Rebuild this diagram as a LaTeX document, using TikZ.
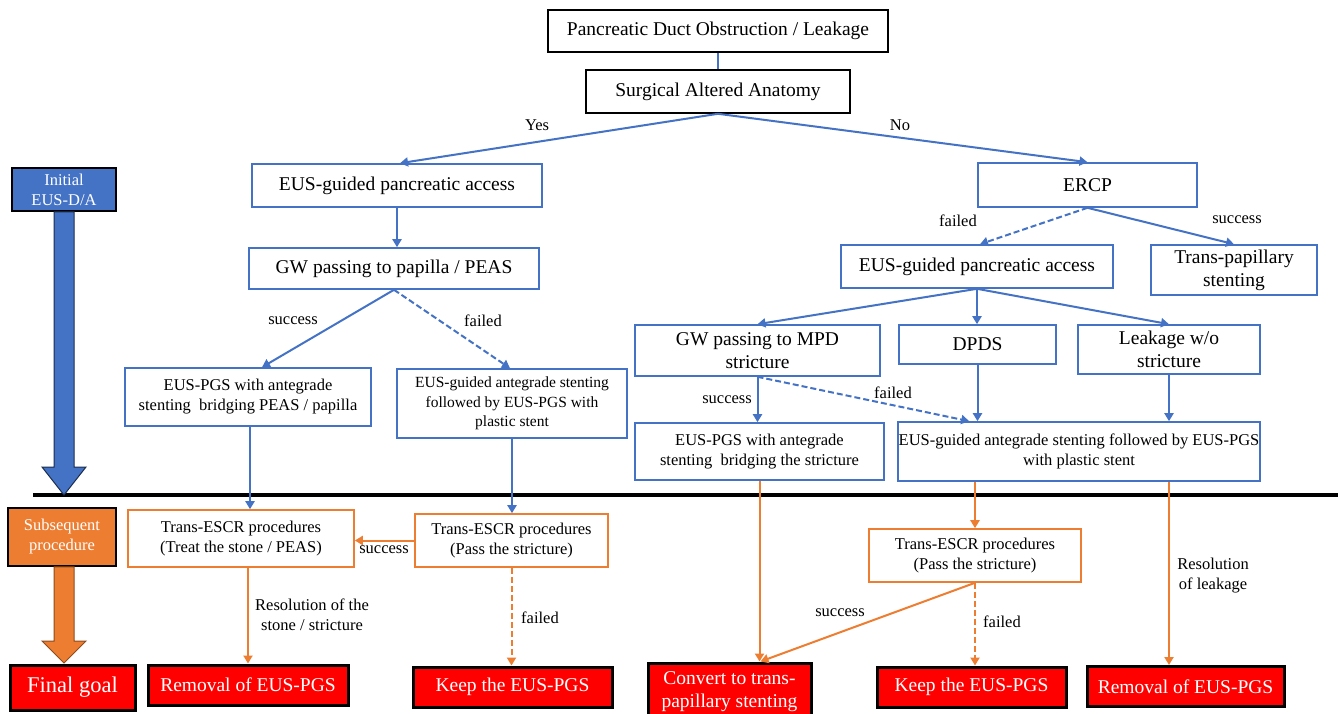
\documentclass[tikz,border=0pt]{standalone}
\usepackage{fontspec}
\setmainfont{Liberation Serif}
\usetikzlibrary{arrows.meta,calc}
\definecolor{bblue}{HTML}{4472C4}
\definecolor{borange}{HTML}{ED7D31}
\definecolor{bred}{HTML}{FF0000}
\tikzset{
  big/.style={font=\fontsize{19.5}{23}\selectfont},
  mid/.style={font=\fontsize{16.5}{20}\selectfont},
  small/.style={font=\fontsize{15.5}{19.5}\selectfont},
  blk/.style={draw=black, line width=1.6pt, inner sep=0pt, align=center, fill=white},
  bbox/.style={draw=bblue, line width=1.6pt, inner sep=0pt, align=center, fill=white},
  obox/.style={draw=borange, line width=1.6pt, inner sep=0pt, align=center, fill=white},
  rbox/.style={draw=black, fill=bred, line width=3pt, inner sep=0pt, align=center, text=white, big},
  sidebox/.style={draw=black, line width=1.8pt, inner sep=0pt, align=center, text=white, mid},
  lab/.style={mid, inner sep=0pt, align=center},
  barr/.style={draw=bblue, line width=2pt, -{Triangle[length=8pt,width=9pt]}},
  oarr/.style={draw=borange, line width=2pt, -{Triangle[length=8pt,width=9pt]}},
  dsh/.style={dash pattern=on 6pt off 3pt},
}
\begin{document}
\begin{tikzpicture}[x=1pt,y=-1pt]
\useasboundingbox (0,0) rectangle (1338,714);
% ---------- top ----------
\node[blk,big,minimum width=340pt,minimum height=42pt] (top) at (718,31) {Pancreatic Duct Obstruction / Leakage};
\node[blk,big,minimum width=264pt,minimum height=43pt] (saa) at (718,91.5) {Surgical Altered Anatomy};
\node[bbox,big,minimum width=290pt,minimum height=43pt] (eusL) at (397,185.5) {EUS-guided pancreatic access};
\node[bbox,big,minimum width=219pt,minimum height=44pt] (ercp) at (1087.5,185) {ERCP};
\node[bbox,big,minimum width=290pt,minimum height=41pt] (gwL) at (394,268.5) {GW passing to papilla / PEAS};
\node[bbox,mid,minimum width=246pt,minimum height=58pt] (pgsL) at (248,397) {EUS-PGS with antegrade\\stenting\ \ bridging PEAS / papilla};
\node[bbox,small,minimum width=230pt,minimum height=69pt] (antL) at (512,403.5) {EUS-guided antegrade stenting\\followed by EUS-PGS with\\plastic stent};
\node[bbox,big,minimum width=272pt,minimum height=43pt] (eusR) at (977,266.5) {EUS-guided pancreatic access};
\node[bbox,big,minimum width=166pt,minimum height=50pt] (tps) at (1234,270) {Trans-papillary\\stenting};
\node[bbox,big,minimum width=245pt,minimum height=51pt] (gwR) at (757.5,350.5) {GW passing to MPD\\stricture};
\node[bbox,big,minimum width=157pt,minimum height=39pt] (dpds) at (977.5,344.5) {DPDS};
\node[bbox,big,minimum width=182pt,minimum height=49pt] (leak) at (1169,349.5) {Leakage w/o\\stricture};
\node[bbox,mid,minimum width=249pt,minimum height=57pt] (pgsR) at (759.5,451.5) {EUS-PGS with antegrade\\stenting\ \ bridging the stricture};
\node[bbox,mid,minimum width=362pt,minimum height=59pt] (antR) at (1079,451.5) {EUS-guided antegrade stenting followed by EUS-PGS\\with plastic stent};
% ---------- divider ----------
\coordinate (divL) at (33,495);
\coordinate (divR) at (1338,495);
\draw[line width=4pt] (divL) -- (divR);
% ---------- bottom ----------
\node[obox,mid,minimum width=226pt,minimum height=57pt] (escrL) at (241,538.5) {Trans-ESCR procedures\\(Treat the stone / PEAS)};
\node[obox,mid,minimum width=193pt,minimum height=53pt] (escrP) at (511.5,540.5) {Trans-ESCR procedures\\(Pass the stricture)};
\node[obox,mid,minimum width=212pt,minimum height=53pt] (escrR) at (975,555.5) {Trans-ESCR procedures\\(Pass the stricture)};
\node[rbox,minimum width=200pt,minimum height=40pt] (remL) at (248,685) {Removal of EUS-PGS};
\node[rbox,minimum width=199pt,minimum height=40pt] (keepL) at (512.5,687) {Keep the EUS-PGS};
\node[rbox,minimum width=163pt,minimum height=58pt] (conv) at (729.5,692) {Convert to trans-\\papillary stenting};
\node[rbox,minimum width=189pt,minimum height=40pt] (keepR) at (971.5,687) {Keep the EUS-PGS};
\node[rbox,minimum width=197pt,minimum height=40pt] (remR) at (1185.5,686.5) {Removal of EUS-PGS};
% ---------- side legend ----------
\node[sidebox,fill=bblue,minimum width=104pt,minimum height=43pt] (init) at (64,189.5) {Initial\\EUS-D/A};
\node[sidebox,fill=borange,minimum width=108pt,minimum height=58pt] (subs) at (62,537) {Subsequent\\procedure};
\node[sidebox,fill=bred,line width=3pt,minimum width=125pt,minimum height=45pt,font=\fontsize{22.5}{26}\selectfont] (final) at (72.5,687.5) {Final goal};
\fill[bblue,draw=black!60!bblue,line width=1pt]
  ($(init.south)+(-10,0)$) -- ($(init.south)+(10,0)$) -- (74,467) -- (86,467) -- (64,495) -- (42,467) -- (54,467) -- cycle;
\fill[borange,draw=black!40!borange,line width=1pt]
  ($(subs.south)+(-8,0)$) -- ($(subs.south)+(12,0)$) -- (74,641) -- (86,641) -- (64,663) -- (42,641) -- (54,641) -- cycle;
% ---------- connectors (top) ----------
\draw[draw=bblue,line width=2pt] (top.south) -- (saa.north);
\draw[barr] (saa.south) -- ($(eusL.north)+(3,0)$);
\draw[barr] (saa.south) -- (ercp.north);
\node[lab] (yes) at (537,125) {Yes};
\node[lab] (no) at (900,125) {No};
\draw[barr] (eusL.south) -- (eusL.south |- gwL.north);
\draw[barr] (gwL.south) -- ($(pgsL.north)+(14,0)$);
\draw[barr,dsh] (gwL.south) -- ($(antL.north)+(-2,0)$);
\node[lab] (s1) at (293,321) {success};
\node[lab] (f1) at (483,321) {failed};
\draw[barr,dsh] (ercp.south) -- ($(eusR.north)+(3,0)$);
\draw[barr] (ercp.south) -- (tps.north);
\node[lab] (f2) at (958,221) {failed};
\node[lab] (s2) at (1237,220) {success};
\draw[barr] (eusR.south) -- (gwR.north);
\draw[barr] (eusR.south) -- (eusR.south |- dpds.north);
\draw[barr] (eusR.south) -- (leak.north);
\draw[barr] (gwR.south) -- (gwR.south |- pgsR.north);
\draw[barr,dsh] (gwR.south) -- ($(antR.north west)+(72,0)$);
\node[lab] (s3) at (727,400) {success};
\node[lab] (f3) at (893,393) {failed};
\draw[barr] (dpds.south) -- (dpds.south |- antR.north);
\draw[barr] (leak.south) -- (leak.south |- antR.north);
% ---------- connectors (bottom) ----------
\draw[barr] ($(pgsL.south)+(2,0)$) -- ($(pgsL.south |- escrL.north)+(2,0)$);
\draw[barr] (antL.south) -- (antL.south |- escrP.north);
\draw[oarr] (escrP.west) -- (escrP.west -| escrL.east);
\node[lab] (s4) at (384,550) {success};
\draw[oarr] (remL.north |- escrL.south) -- (remL.north);
\node[lab] (r1) at (312,615) {Resolution of the\\stone / stricture};
\draw[oarr,dsh] (escrP.south) -- (escrP.south |- keepL.north);
\node[lab] (f4) at (540,618) {failed};
\coordinate (convIn) at ($(conv.north)+(31,0)$);
\draw[oarr] (pgsR.south) -- (pgsR.south |- convIn);
\draw[oarr] (escrR.north |- antR.south) -- (escrR.north);
\draw[oarr] (escrR.south) -- (convIn);
\draw[oarr,dsh] (escrR.south) -- (escrR.south |- keepR.north);
\node[lab] (s5) at (840,613) {success};
\node[lab] (f5) at (1002,622) {failed};
\draw[oarr] (leak.south |- antR.south) -- (leak.south |- remR.north);
\node[lab] (r2) at (1213,576) {Resolution\\of leakage};
\end{tikzpicture}
\end{document}
